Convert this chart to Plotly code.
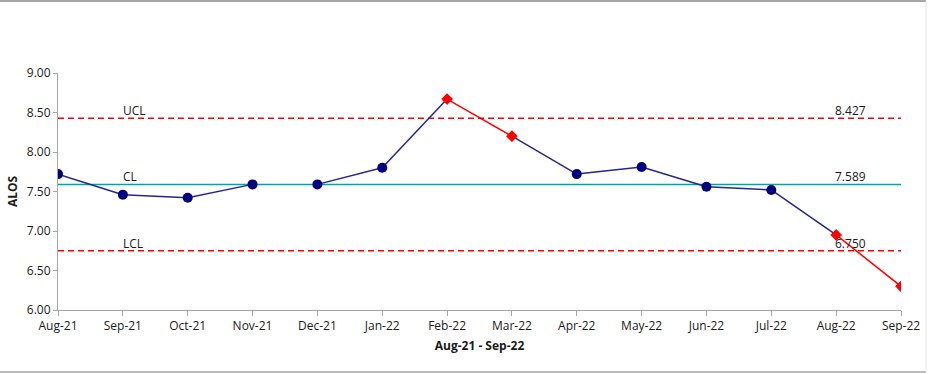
import plotly.graph_objects as go

months = ["Aug-21", "Sep-21", "Oct-21", "Nov-21", "Dec-21", "Jan-22", "Feb-22",
          "Mar-22", "Apr-22", "May-22", "Jun-22", "Jul-22", "Aug-22", "Sep-22"]
alos = [7.72, 7.46, 7.42, 7.59, 7.59, 7.80, 8.67, 8.20, 7.72, 7.81, 7.56, 7.52, 6.95, 6.30]
flagged = [False, False, False, False, False, False, True, True, False, False, False, False, True, True]
# colour of the segment joining month i to month i+1 (None = no line)
segment_kind = ["normal", "normal", "normal", None, "normal", "normal", "signal",
                "normal", "normal", "normal", "normal", "normal", "signal"]
ucl = 8.427
cl = 7.589
lcl = 6.750

FONT = "'Open Sans', sans-serif"
BLUE_LINE = "#26268F"
BLUE_MARK = "#000080"
RED = "#FF0000"
TEAL = "#00A3A6"
DASH = "6px,4px"

x = list(range(len(months)))
fig = go.Figure()

# control limit lines
fig.add_trace(go.Scatter(x=[x[0], x[-1]], y=[ucl, ucl], mode="lines",
                         line=dict(color=RED, width=1.5, dash=DASH), hoverinfo="skip"))
fig.add_trace(go.Scatter(x=[x[0], x[-1]], y=[cl, cl], mode="lines",
                         line=dict(color=TEAL, width=1.5), hoverinfo="skip"))
fig.add_trace(go.Scatter(x=[x[0], x[-1]], y=[lcl, lcl], mode="lines",
                         line=dict(color=RED, width=1.5, dash=DASH), hoverinfo="skip"))

# data segments
for i, kind in enumerate(segment_kind):
    if kind is None:
        continue
    fig.add_trace(go.Scatter(x=[x[i], x[i + 1]], y=[alos[i], alos[i + 1]], mode="lines",
                             line=dict(color=BLUE_LINE if kind == "normal" else RED, width=1.5)))

# markers
nx = [xi for xi, f in zip(x, flagged) if not f]
ny = [v for v, f in zip(alos, flagged) if not f]
rx = [xi for xi, f in zip(x, flagged) if f]
ry = [v for v, f in zip(alos, flagged) if f]
fig.add_trace(go.Scatter(x=nx, y=ny, mode="markers",
                         marker=dict(symbol="circle", size=10, color=BLUE_MARK)))
fig.add_trace(go.Scatter(x=rx, y=ry, mode="markers",
                         marker=dict(symbol="diamond", size=9, color=RED)))

# limit labels
for name, val in [("UCL", ucl), ("CL", cl), ("LCL", lcl)]:
    fig.add_annotation(x=0.97, y=val, text=name, showarrow=False, xanchor="left",
                       yanchor="bottom", yshift=-3, font=dict(family=FONT, size=12, color="#1a1a1a"))
    fig.add_annotation(x=11.95, y=val, text=f"{val:.3f}", showarrow=False, xanchor="left",
                       yanchor="bottom", yshift=-3, font=dict(family=FONT, size=12, color="#1a1a1a"))

PW, PH = 843, 237  # plot area size in px
fig.update_layout(
    width=936, height=374,
    margin=dict(l=58, r=35, t=73, b=64),
    paper_bgcolor="white", plot_bgcolor="white",
    showlegend=False,
    font=dict(family=FONT, size=12, color="#1a1a1a"),
    xaxis=dict(range=[0, 13], tickvals=x, ticktext=months, showgrid=False, zeroline=False,
               showline=True, linecolor="#A6A6A6", linewidth=1, ticks="outside", ticklen=5,
               tickcolor="#A6A6A6", tickfont=dict(size=12),
               title=dict(text="<b>Aug-21 - Sep-22</b>", font=dict(size=12), standoff=8)),
    yaxis=dict(range=[6, 9], tickvals=[6, 6.5, 7, 7.5, 8, 8.5, 9], tickformat=".2f",
               showgrid=False, zeroline=False, showline=True, linecolor="#A6A6A6", linewidth=1,
               ticks="outside", ticklen=4, tickcolor="#A6A6A6", tickfont=dict(size=12),
               title=dict(text="<b>ALOS</b>", font=dict(size=12), standoff=6)),
    shapes=[
        dict(type="line", xref="paper", yref="paper", x0=-58/PW, x1=868/PW,
             y0=1 + 72/PH, y1=1 + 72/PH, line=dict(color="#A6A6A6", width=2)),
        dict(type="line", xref="paper", yref="paper", x0=-58/PW, x1=868/PW,
             y0=-62/PH, y1=-62/PH, line=dict(color="#A6A6A6", width=1.5)),
        dict(type="line", xref="paper", yref="paper", x0=868/PW, x1=868/PW,
             y0=-62/PH, y1=1 + 72/PH, line=dict(color="#E6E6E6", width=1)),
    ],
)

fig.write_html("out.html", config={"displayModeBar": False},
               post_script="document.body.style.margin='0';document.body.style.overflow='hidden';")
